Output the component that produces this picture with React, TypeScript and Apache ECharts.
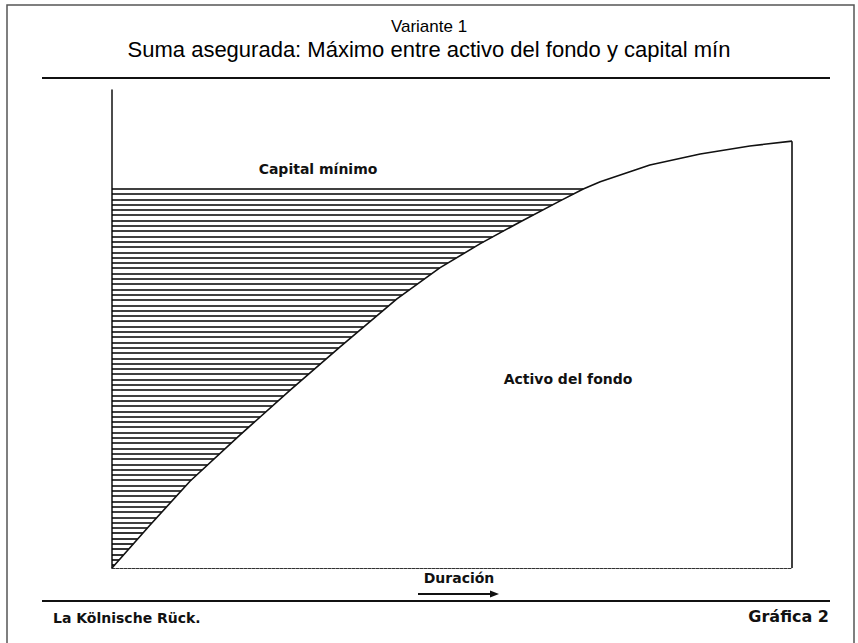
import React, { useEffect, useRef } from "react";
import * as echarts from "echarts";

// Duración (x, 0-100) and Activo del fondo (y, 0-100)
const durationX = [0, 5.6, 11.5, 18.8, 26.2, 33.5, 41.9, 48.2, 54.1, 60.0, 65.9, 69.3, 71.8, 79.1, 86.5, 93.8, 100];
const activoFondo = [0, 9.0, 18.2, 27.8, 37.2, 46.2, 56.3, 62.8, 67.8, 72.4, 76.8, 79.3, 80.8, 84.3, 86.6, 88.3, 89.3];
const capitalMinimo = 79.3;

const titleTop = "Variante 1";
const titleMain = "Suma asegurada: Máximo entre activo del fondo y capital mín";
const labelCapital = "Capital mínimo";
const labelActivo = "Activo del fondo";
const labelDuracion = "Duración";
const footerLeft = "La Kölnische Rück.";
const footerRight = "Gráfica 2";

export default function App() {
  const ref = useRef<HTMLDivElement>(null);
  useEffect(() => {
    if (!ref.current) return;
    const chart = echarts.init(ref.current, undefined, { renderer: "svg" });
    const curvePts = durationX.map((x, i) => [x, activoFondo[i]]);
    const lastX = durationX[durationX.length - 1];
    const lastY = activoFondo[activoFondo.length - 1];
    const ink = "#111";
    const labelFont = { fontFamily: "DejaVu Sans", fontWeight: "bold", fontSize: 14, fill: ink } as any;

    const hatchRender = (params: any, api: any) => {
      const pts = curvePts.map((p) => api.coord(p));
      const top = api.coord([0, capitalMinimo]);
      const bottom = api.coord([0, 0]);
      const children: any[] = [];
      const step = 5.3;
      for (let yy = top[1]; yy < bottom[1] - 1; yy += step) {
        const y = Math.round(yy);
        let xr: number | null = null;
        for (let k = 0; k < pts.length - 1; k++) {
          const [x1, y1] = pts[k];
          const [x2, y2] = pts[k + 1];
          if (y <= y1 && y >= y2 && y1 !== y2) {
            xr = x1 + ((x2 - x1) * (y1 - y)) / (y1 - y2);
            break;
          }
        }
        if (xr !== null) {
          children.push({
            type: "line",
            shape: { x1: top[0], y1: y, x2: xr, y2: y },
            style: { stroke: "#000", lineWidth: 1.6 },
          });
        }
      }
      return { type: "group", children };
    };

    chart.setOption({
      animation: false,
      backgroundColor: "#fff",
      grid: { left: 112, right: 66, top: 90, bottom: 75, containLabel: false },
      xAxis: {
        type: "value",
        min: 0,
        max: 100,
        axisLine: { show: true, lineStyle: { color: "#333", width: 1, type: [3, 1] } },
        axisTick: { show: false },
        axisLabel: { show: false },
        splitLine: { show: false },
      },
      yAxis: {
        type: "value",
        min: 0,
        max: 100,
        axisLine: { show: true, lineStyle: { color: ink, width: 1.5 } },
        axisTick: { show: false },
        axisLabel: { show: false },
        splitLine: { show: false },
      },
      series: [
        {
          type: "custom",
          silent: true,
          clip: false,
          data: [[0, capitalMinimo]],
          renderItem: hatchRender,
        },
        {
          type: "line",
          data: curvePts,
          symbol: "none",
          silent: true,
          lineStyle: { color: ink, width: 1.6 },
          markLine: {
            silent: true,
            symbol: "none",
            label: { show: false },
            lineStyle: { color: ink, width: 1.6, type: "solid" },
            data: [[{ coord: [lastX, 0] }, { coord: [lastX, lastY] }]],
          },
        },
      ],
      graphic: [
        {
          type: "rect",
          shape: { x: 7, y: 5, width: 847, height: 660 },
          style: { fill: "none", stroke: "#555", lineWidth: 1.5 },
          silent: true,
        },
        {
          type: "text",
          x: 429,
          y: 26,
          style: { text: titleTop, fontFamily: "Liberation Sans", fontSize: 17, fill: "#000", align: "center", verticalAlign: "middle" },
        },
        {
          type: "text",
          x: 429,
          y: 49,
          style: { text: titleMain, fontFamily: "Liberation Sans", fontSize: 22, fill: "#000", align: "center", verticalAlign: "middle" },
        },
        {
          type: "line",
          shape: { x1: 42, y1: 78, x2: 830, y2: 78 },
          style: { stroke: ink, lineWidth: 2 },
        },
        {
          type: "line",
          shape: { x1: 42, y1: 601, x2: 830, y2: 601 },
          style: { stroke: ink, lineWidth: 2 },
        },
        {
          type: "text",
          x: 318,
          y: 169,
          style: { ...labelFont, text: labelCapital, align: "center", verticalAlign: "middle" },
        },
        {
          type: "text",
          x: 568,
          y: 379,
          style: { ...labelFont, text: labelActivo, align: "center", verticalAlign: "middle" },
        },
        {
          type: "text",
          x: 459,
          y: 578,
          style: { ...labelFont, text: labelDuracion, align: "center", verticalAlign: "middle" },
        },
        {
          type: "line",
          shape: { x1: 418, y1: 594, x2: 492, y2: 594 },
          style: { stroke: ink, lineWidth: 2 },
        },
        {
          type: "polygon",
          shape: { points: [[490, 590.5], [499, 594], [490, 597.5]] },
          style: { fill: ink },
        },
        {
          type: "text",
          x: 53,
          y: 618,
          style: { ...labelFont, fontSize: 14, text: footerLeft, align: "left", verticalAlign: "middle" },
        },
        {
          type: "text",
          x: 829,
          y: 616,
          style: { ...labelFont, fontSize: 16, text: footerRight, align: "right", verticalAlign: "middle" },
        },
      ],
    });
    return () => chart.dispose();
  }, []);
  return <div ref={ref} style={{ width: 858, height: 643, position: "absolute", left: 0, top: 0 }} />;
}
